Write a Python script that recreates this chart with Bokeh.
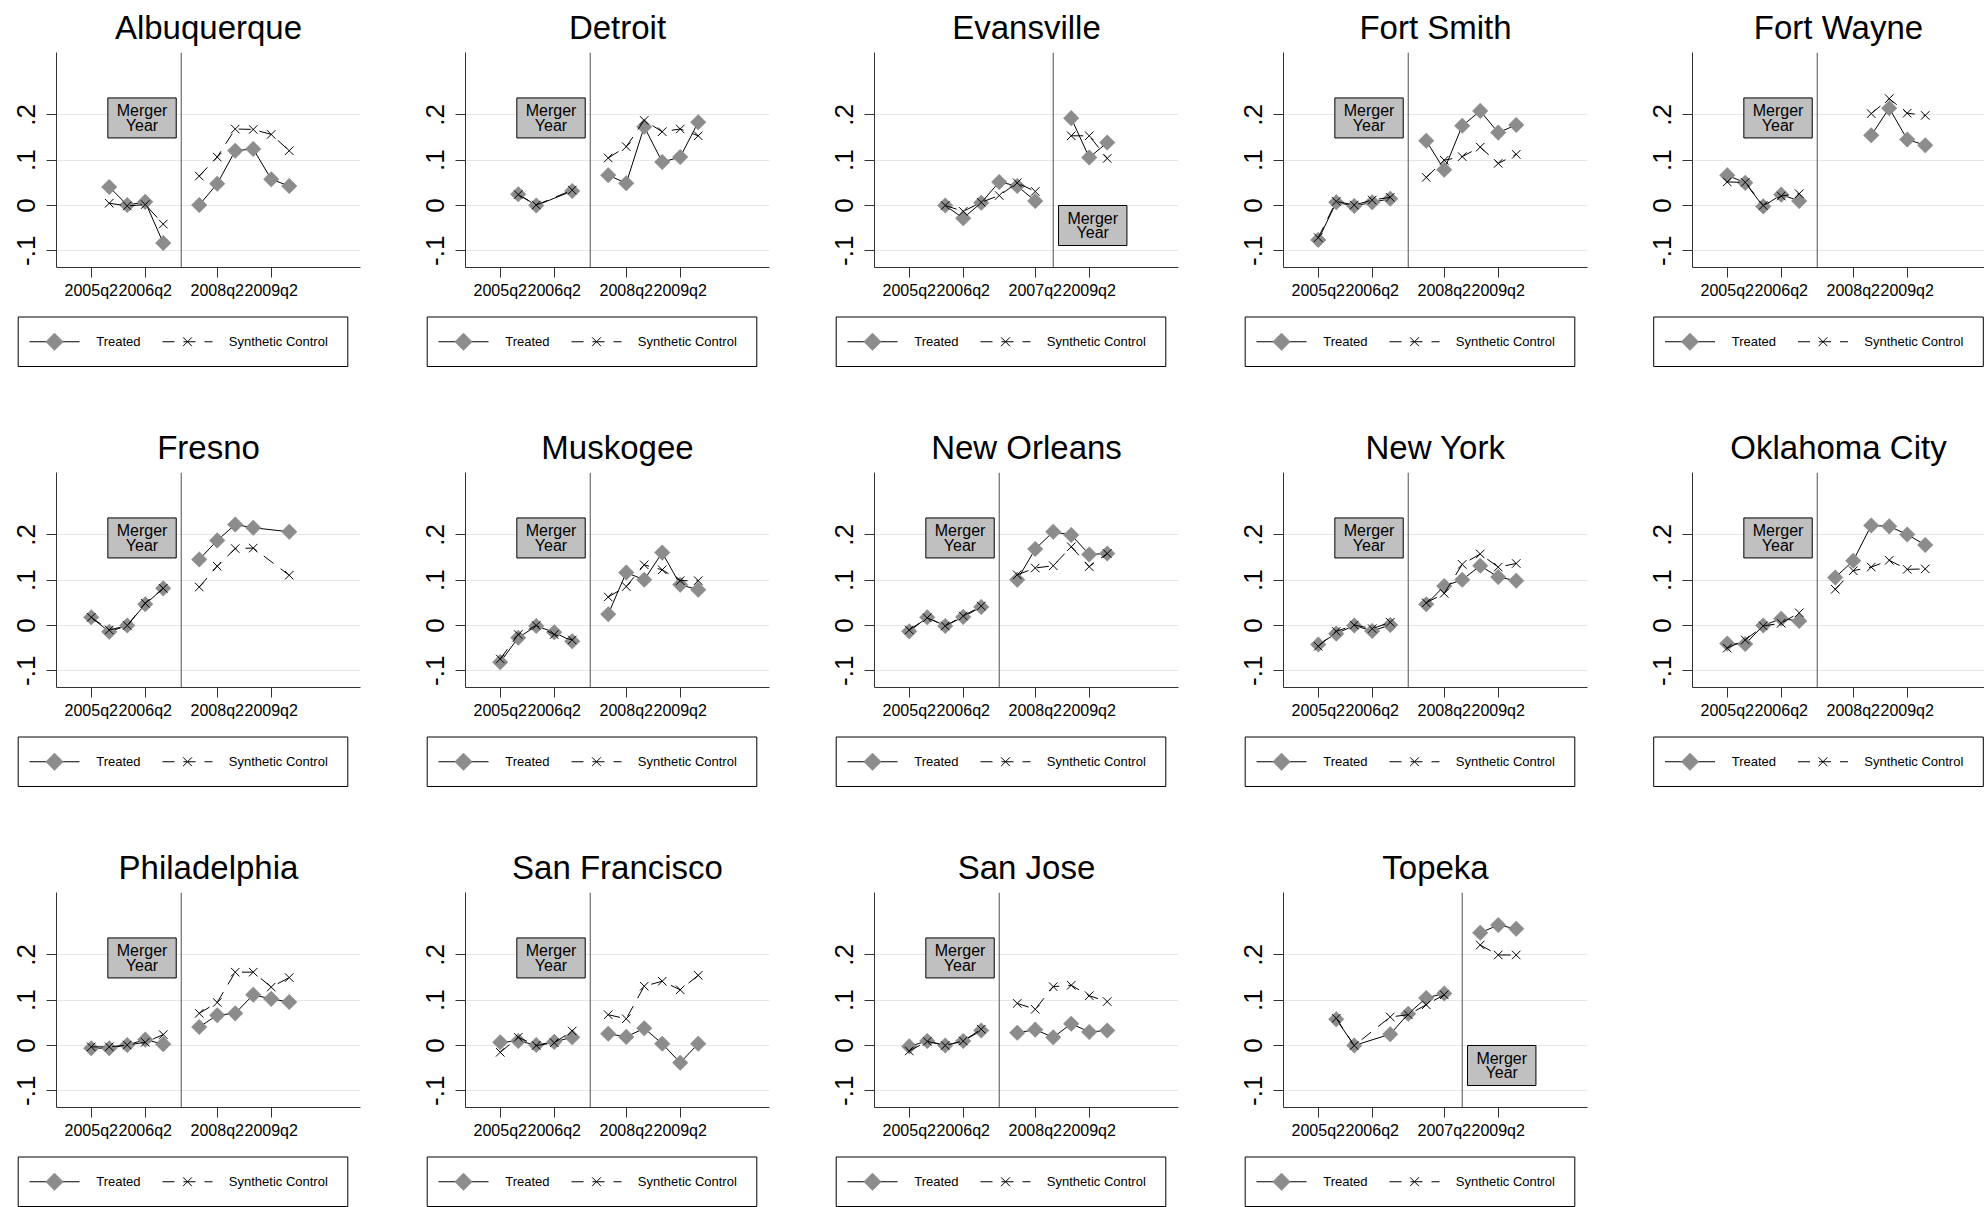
import numpy as np
from bokeh.plotting import figure
from bokeh.models import Range1d, FixedTicker, CustomJSTickFormatter, Span
from bokeh.layouts import column, row
from bokeh.embed import file_html
from bokeh.resources import INLINE
from bokeh.core.properties import value

# ---------------- data ----------------
# x: period index (None = break between pre and post periods)
albuquerque_x = [1, 2, 3, 4, None, 6, 7, 8, 9, 10, 11]
albuquerque_treated = [0.041, 0.001, 0.008, -0.083, None, 0.001, 0.048, 0.121, 0.125, 0.058, 0.043]
albuquerque_synth = [0.005, -0.001, 0.002, -0.041, None, 0.065, 0.107, 0.169, 0.168, 0.157, 0.121]

detroit_x = [1, 2, 4, None, 6, 7, 8, 9, 10, 11]
detroit_treated = [0.025, 0.0, 0.032, None, 0.067, 0.049, 0.174, 0.096, 0.107, 0.184]
detroit_synth = [0.024, 0.001, 0.034, None, 0.105, 0.130, 0.188, 0.163, 0.169, 0.154]

evansville_x = [2, 3, 4, 5, 6, 7, None, 9, 10, 11]
evansville_treated = [0.0, -0.028, 0.006, 0.052, 0.043, 0.010, None, 0.193, 0.106, 0.139]
evansville_synth = [0.0, -0.013, 0.007, 0.022, 0.050, 0.031, None, 0.154, 0.154, 0.104]

fort_smith_x = [0, 1, 2, 3, 4, None, 6, 7, 8, 9, 10, 11]
fort_smith_treated = [-0.076, 0.007, -0.001, 0.007, 0.015, None, 0.143, 0.079, 0.176, 0.209, 0.161, 0.178]
fort_smith_synth = [-0.071, 0.009, 0.001, 0.012, 0.018, None, 0.062, 0.100, 0.108, 0.129, 0.093, 0.113]

fort_wayne_x = [0, 1, 2, 3, 4, None, 8, 9, 10, 11]
fort_wayne_treated = [0.067, 0.050, -0.002, 0.024, 0.010, None, 0.155, 0.215, 0.146, 0.133]
fort_wayne_synth = [0.052, 0.051, 0.0, 0.021, 0.026, None, 0.203, 0.236, 0.204, 0.199]

fresno_x = [0, 1, 2, 3, 4, None, 6, 7, 8, 9, 11]
fresno_treated = [0.018, -0.014, 0.0, 0.047, 0.082, None, 0.146, 0.188, 0.223, 0.216, 0.207]
fresno_synth = [0.018, -0.010, 0.0, 0.049, 0.082, None, 0.085, 0.131, 0.170, 0.171, 0.111]

full_x = [0, 1, 2, 3, 4, None, 6, 7, 8, 9, 10, 11]

muskogee_treated = [-0.081, -0.027, -0.001, -0.015, -0.035, None, 0.025, 0.117, 0.101, 0.161, 0.090, 0.079]
muskogee_synth = [-0.074, -0.020, 0.0, -0.020, -0.032, None, 0.063, 0.086, 0.134, 0.123, 0.099, 0.099]

new_orleans_treated = [-0.013, 0.018, -0.001, 0.019, 0.041, None, 0.101, 0.169, 0.207, 0.200, 0.157, 0.159]
new_orleans_synth = [-0.010, 0.017, -0.001, 0.021, 0.043, None, 0.112, 0.127, 0.132, 0.174, 0.130, 0.159]

new_york_treated = [-0.042, -0.018, 0.0, -0.012, 0.001, None, 0.047, 0.087, 0.101, 0.132, 0.107, 0.099]
new_york_synth = [-0.046, -0.013, 0.001, -0.007, 0.007, None, 0.050, 0.071, 0.135, 0.158, 0.129, 0.137]

oklahoma_city_treated = [-0.040, -0.041, 0.0, 0.015, 0.010, None, 0.106, 0.143, 0.221, 0.219, 0.201, 0.178]
oklahoma_city_synth = [-0.050, -0.032, -0.001, 0.005, 0.028, None, 0.080, 0.121, 0.129, 0.144, 0.124, 0.125]

philadelphia_treated = [-0.006, -0.006, 0.001, 0.013, 0.003, None, 0.041, 0.067, 0.071, 0.112, 0.103, 0.096]
philadelphia_synth = [-0.003, -0.003, 0.001, 0.007, 0.024, None, 0.071, 0.095, 0.162, 0.162, 0.129, 0.150]

san_francisco_treated = [0.007, 0.010, 0.001, 0.008, 0.018, None, 0.026, 0.019, 0.038, 0.004, -0.038, 0.004]
san_francisco_synth = [-0.015, 0.018, 0.0, 0.006, 0.032, None, 0.068, 0.059, 0.131, 0.142, 0.123, 0.155]

san_jose_treated = [-0.002, 0.010, 0.0, 0.010, 0.033, None, 0.028, 0.035, 0.018, 0.048, 0.030, 0.033]
san_jose_synth = [-0.012, 0.009, 0.0, 0.010, 0.036, None, 0.093, 0.080, 0.130, 0.133, 0.110, 0.097]

topeka_x = [1, 2, 4, 5, 6, 7, None, 9, 10, 11]
topeka_treated = [0.058, 0.0, 0.025, 0.070, 0.105, 0.115, None, 0.249, 0.266, 0.258]
topeka_synth = [0.060, 0.0, 0.063, 0.068, 0.090, 0.112, None, 0.222, 0.200, 0.200]

x_ticks = [0, 3, 7, 10]
labels_a = ["2005q2", "2006q2", "2008q2", "2009q2"]
labels_b = ["2005q2", "2006q2", "2007q2", "2009q2"]
y_ticks = [-0.1, 0.0, 0.1, 0.2]
legend_labels = ["Treated", "Synthetic Control"]

# name, x, treated, synthetic, merger period, tick labels
panels = [
    ("Albuquerque", albuquerque_x, albuquerque_treated, albuquerque_synth, 5, labels_a),
    ("Detroit", detroit_x, detroit_treated, detroit_synth, 5, labels_a),
    ("Evansville", evansville_x, evansville_treated, evansville_synth, 8, labels_b),
    ("Fort Smith", fort_smith_x, fort_smith_treated, fort_smith_synth, 5, labels_a),
    ("Fort Wayne", fort_wayne_x, fort_wayne_treated, fort_wayne_synth, 5, labels_a),
    ("Fresno", fresno_x, fresno_treated, fresno_synth, 5, labels_a),
    ("Muskogee", full_x, muskogee_treated, muskogee_synth, 5, labels_a),
    ("New Orleans", full_x, new_orleans_treated, new_orleans_synth, 5, labels_a),
    ("New York", full_x, new_york_treated, new_york_synth, 5, labels_a),
    ("Oklahoma City", full_x, oklahoma_city_treated, oklahoma_city_synth, 5, labels_a),
    ("Philadelphia", full_x, philadelphia_treated, philadelphia_synth, 5, labels_a),
    ("San Francisco", full_x, san_francisco_treated, san_francisco_synth, 5, labels_a),
    ("San Jose", full_x, san_jose_treated, san_jose_synth, 5, labels_a),
    ("Topeka", topeka_x, topeka_treated, topeka_synth, 8, labels_b),
]

# ---------------- styling / layout ----------------
FONT = "Liberation Sans"
GRAY = "#8c8c8c"
DASH = "12 9"
X0, X1 = -1.93, 14.96
Y0, Y1 = -0.137, 0.338
FRAME_W, FRAME_H = 304, 215
UNIT_PX = FRAME_W / (X1 - X0)
YPX = FRAME_H / (Y1 - Y0)
COL_W = 409
LAST_W = 1984 - 4 * COL_W
TOP_B = 52
BOT_B = 35
MAIN_H = TOP_B + FRAME_H + BOT_B
LEG_H = [118, 118, 65]


def make_main(idx):
    name, xs, tr, sc, merger, labels = panels[idx]
    r, c = divmod(idx, 5)
    last = (c == 4)
    w = LAST_W if last else COL_W
    left_b = 56
    right_b = 0 if last else COL_W - left_b - FRAME_W
    fw = w - left_b - right_b
    x_end = X0 + fw / UNIT_PX

    p = figure(width=w, height=MAIN_H, x_range=Range1d(X0, x_end), y_range=Range1d(Y0, Y1),
               output_backend="svg", toolbar_location=None, title=name,
               min_border_left=left_b, min_border_right=right_b,
               min_border_top=TOP_B, min_border_bottom=BOT_B)
    p.frame_align = False
    p.outline_line_color = None
    p.background_fill_color = "white"
    p.border_fill_color = "white"

    p.title.text_font = FONT
    p.title.text_font_size = "33px"
    p.title.text_font_style = "normal"
    p.title.text_color = "black"
    p.title.align = "center"
    p.title.standoff = 13

    x = np.array(xs, dtype=float)
    t = np.array(tr, dtype=float)
    s = np.array(sc, dtype=float)

    p.line(x, t, line_color="black", line_width=1)
    p.scatter(x, t, marker="square", size=11, angle=np.pi / 4,
              fill_color=GRAY, line_color=GRAY, line_width=0.5)
    p.line(x, s, line_color="black", line_width=1, line_dash=DASH)
    p.scatter(x, s, marker="x", size=12, line_color="black", line_width=1)

    p.add_layout(Span(location=merger, dimension="height", line_color="#505050", line_width=1))

    # Merger Year box
    bw = 68.4 / UNIT_PX
    bh = 40 / YPX
    if merger < 7:
        right = merger - 5 / UNIT_PX
        left = right - bw
        top = 0.2376
    else:
        left = merger + 5.3 / UNIT_PX
        right = left + bw
        top = 0.0
    bottom = top - bh
    p.quad(left=[left], right=[right], top=[top], bottom=[bottom],
           fill_color="#c0c0c0", line_color="black", line_width=1)
    cx = (left + right) / 2
    p.text(x=[cx, cx], y=[top - 12.7 / YPX, top - 27.2 / YPX], text=["Merger", "Year"],
           text_font=value(FONT), text_font_size="16px", text_align="center",
           text_baseline="middle", text_color="black")

    # axes
    xa = p.xaxis[0]
    xa.ticker = FixedTicker(ticks=x_ticks)
    xa.major_label_overrides = {tk: lb for tk, lb in zip(x_ticks, labels)}
    xa.minor_tick_line_color = None
    xa.major_tick_out = 10
    xa.major_tick_in = 0
    xa.major_label_standoff = 4
    xa.major_label_text_font = FONT
    xa.major_label_text_font_size = "16px"
    xa.major_label_text_color = "black"
    xa.axis_line_color = "#333333"
    xa.major_tick_line_color = "#333333"

    ya = p.yaxis[0]
    ya.ticker = FixedTicker(ticks=y_ticks)
    ya.formatter = CustomJSTickFormatter(code="""
        if (Math.abs(tick) < 1e-9) { return "0"; }
        return tick.toFixed(1).replace("0.", ".");
    """)
    ya.minor_tick_line_color = None
    ya.major_tick_out = 10
    ya.major_tick_in = 0
    ya.major_label_orientation = "vertical"
    ya.major_label_standoff = 11
    ya.major_label_text_font = FONT
    ya.major_label_text_font_size = "26px"
    ya.major_label_text_color = "black"
    ya.axis_line_color = "#333333"
    ya.major_tick_line_color = "#333333"

    p.xgrid.visible = False
    p.ygrid.grid_line_color = "#e6e6e6"
    p.ygrid.grid_line_width = 1
    return p


def make_legend(idx):
    r, c = divmod(idx, 5)
    last = (c == 4)
    w = LAST_W if last else COL_W
    h = LEG_H[r]
    lg = figure(width=w, height=h, x_range=Range1d(0, w), y_range=Range1d(h, 0),
                output_backend="svg", toolbar_location=None,
                x_axis_location=None, y_axis_location=None,
                min_border_left=0, min_border_right=0, min_border_top=0, min_border_bottom=0)
    lg.frame_align = False
    lg.outline_line_color = None
    lg.xgrid.visible = False
    lg.ygrid.visible = False
    lg.background_fill_color = "white"
    lg.border_fill_color = "white"

    bx0 = 17.2 if last else 17.7
    bx1 = bx0 + 329.6
    by0, by1 = 14.5, 64.0
    cy = (by0 + by1) / 2
    lg.quad(left=[bx0], right=[bx1], top=[by0], bottom=[by1],
            fill_color="white", line_color="black", line_width=1)
    # treated sample
    g0 = bx0 + 11.3
    lg.line([g0, g0 + 50], [cy, cy], line_color="black", line_width=1)
    lg.scatter([g0 + 25], [cy], marker="square", size=12.4, angle=np.pi / 4,
               fill_color=GRAY, line_color=GRAY, line_width=0.5)
    lg.text(x=[g0 + 66.7], y=[cy], text=[legend_labels[0]], text_font=value(FONT),
            text_font_size="13px", text_align="left", text_baseline="middle", text_color="black")
    # synthetic sample
    g1 = bx0 + 144.3
    lg.line([g1, g1 + 50], [cy, cy], line_color="black", line_width=1, line_dash=DASH)
    lg.scatter([g1 + 25], [cy], marker="x", size=12.5, line_color="black", line_width=1)
    lg.text(x=[g1 + 66.3], y=[cy], text=[legend_labels[1]], text_font=value(FONT),
            text_font_size="13px", text_align="left", text_baseline="middle", text_color="black")
    return lg


cells = [column(make_main(i), make_legend(i)) for i in range(len(panels))]
rows = [row(cells[i:i + 5]) for i in range(0, len(cells), 5)]
layout = column(rows)

open("out.html", "w").write(file_html(layout, INLINE))
